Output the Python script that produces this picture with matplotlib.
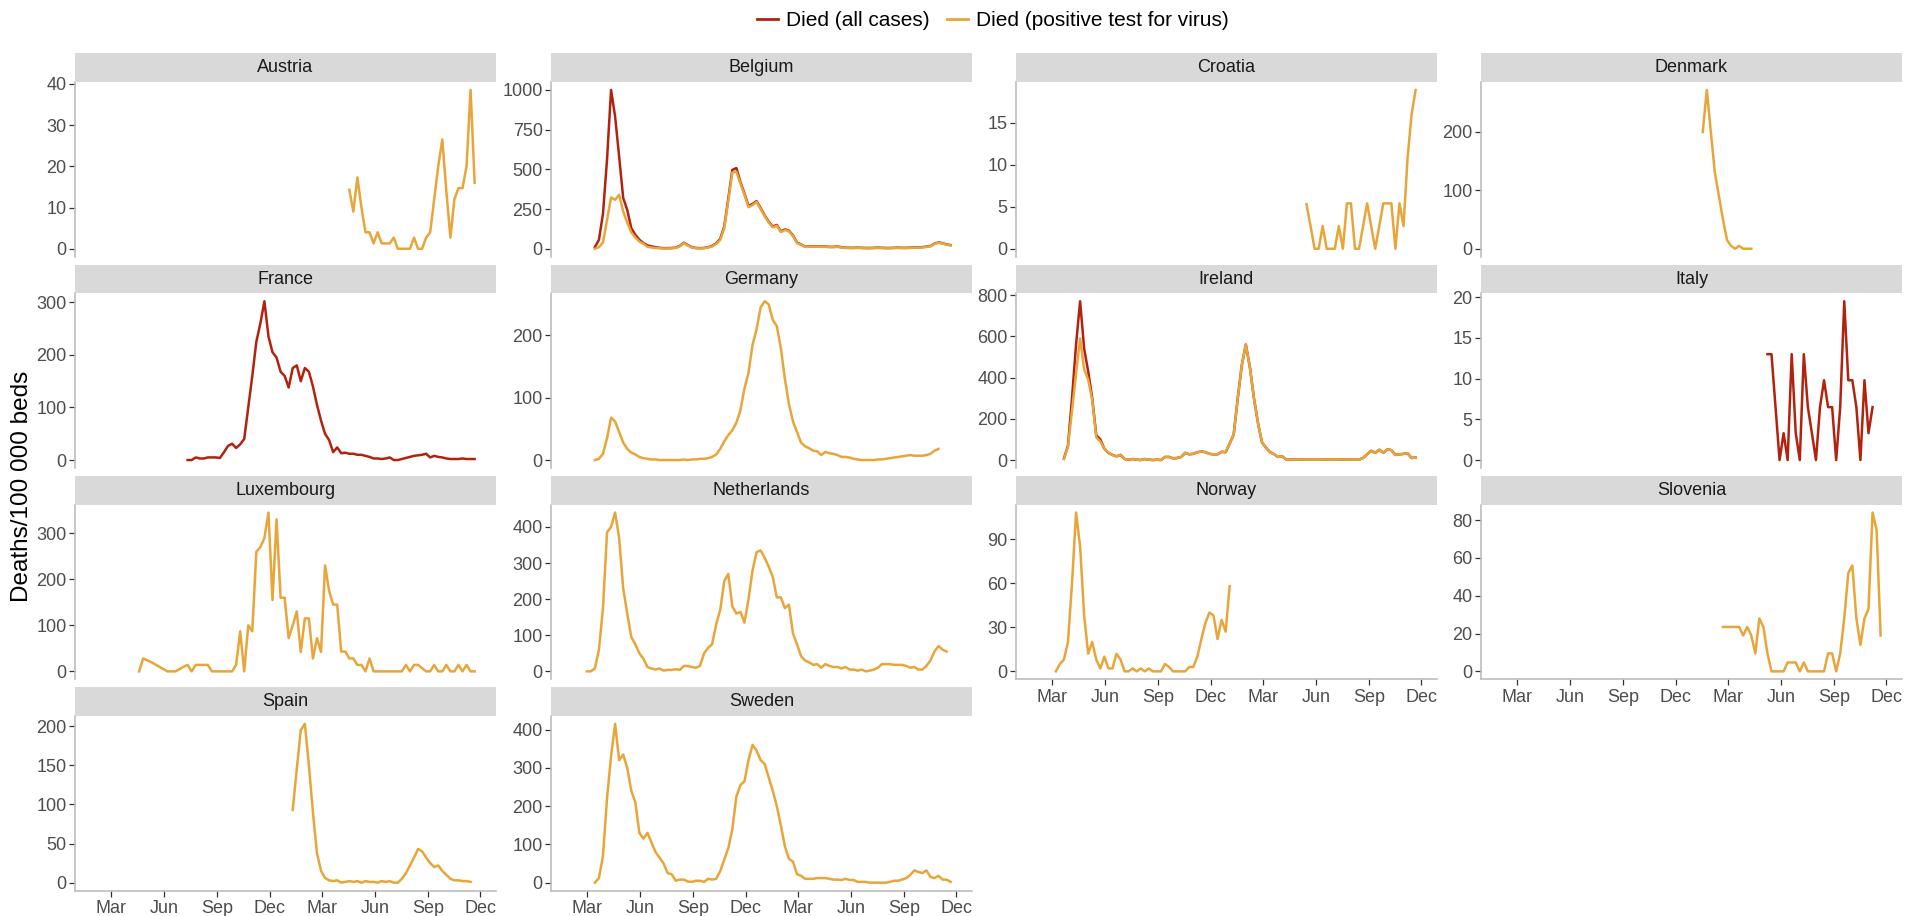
import matplotlib
matplotlib.use("Agg")
import matplotlib.pyplot as plt
import matplotlib.dates as mdates
from matplotlib.patches import Rectangle
from matplotlib.lines import Line2D
import pandas as pd
import numpy as np

plt.rcParams['font.family'] = ['Liberation Sans', 'DejaVu Sans']

# ---------------- data (weekly values, deaths per 100 000 beds) ----------------
countries = ["Austria", "Belgium", "Croatia", "Denmark",
             "France", "Germany", "Ireland", "Italy",
             "Luxembourg", "Netherlands", "Norway", "Slovenia",
             "Spain", "Sweden"]

austria_start = "2021-04-18"
austria_pos = [14.3, 9, 17.3, 10, 4, 4, 1.3, 4, 1.3, 1.3, 1.3, 2.7, 0, 0, 0, 0,
               2.7, 0, 0, 2.7, 4, 12, 20, 26.5, 14, 2.7, 12, 14.7, 14.7, 20, 38.5, 16]

belgium_start = "2020-03-15"
belgium_pos = [0, 10, 40, 180, 323, 308, 340, 235, 165, 103, 71, 46, 31, 12, 8, 5,
               3, 2, 2, 3, 5, 15, 35, 20, 8, 3, 2, 3, 8, 15, 30, 55, 130, 300, 480, 485,
               410, 340, 262, 275, 295, 250, 205, 165, 135, 145, 105, 118, 110, 80, 36, 25,
               12, 12, 14, 13, 12, 12, 10, 10, 12, 8, 5, 4, 4, 5, 4, 3, 3, 4, 5, 4,
               3, 3, 4, 5, 4, 4, 5, 6, 6, 8, 12, 15, 30, 38, 33, 25, 21]
belgium_all = [10, 57, 220, 560, 1000, 833, 580, 320, 245, 130, 88, 57, 36, 21, 15, 10,
               6, 4, 4, 5, 7, 18, 38, 23, 10, 5, 4, 5, 10, 18, 34, 62, 140, 315, 497, 508,
               420, 348, 270, 282, 300, 256, 210, 170, 140, 150, 110, 122, 114, 84, 39, 27,
               14, 14, 16, 15, 14, 14, 12, 12, 14, 10, 7, 6, 6, 7, 6, 5, 5, 6, 7, 6,
               5, 5, 6, 7, 6, 6, 7, 8, 8, 10, 14, 17, 32, 40, 35, 27, 23]

croatia_start = "2021-05-16"
croatia_pos = [5.3, 2.7, 0, 0, 2.7, 0, 0, 0, 2.7, 0, 5.4, 5.4, 0, 0, 2.7, 5.4, 2.7, 0,
               2.7, 5.4, 5.4, 5.4, 0, 5.4, 2.7, 10.8, 16, 18.9]

denmark_start = "2021-01-17"
denmark_pos = [200, 272, 200, 130, 90, 50, 15, 5, 0, 5, 0, 0, 0]

france_start = "2020-07-12"
france_all = [0, 0, 5, 3, 3, 5, 5, 5, 4, 15, 27, 31, 23, 30, 40, 100, 160, 225, 260, 302,
              235, 205, 195, 168, 160, 138, 175, 180, 150, 175, 168, 140, 105, 75, 50, 38,
              15, 24, 13, 14, 12, 12, 10, 10, 8, 6, 3, 3, 2, 3, 5, 0, 0, 2, 4, 6, 8, 9,
              10, 12, 5, 8, 6, 5, 3, 2, 2, 2, 3, 2, 2, 2]

germany_start = "2020-03-15"
germany_pos = [0, 2, 10, 35, 68, 62, 45, 28, 18, 12, 9, 5, 3, 2, 1, 1, 0, 0, 0, 0, 0, 0,
               1, 0, 1, 1, 2, 2, 3, 5, 9, 18, 30, 40, 48, 60, 80, 115, 140, 185, 210, 245,
               255, 250, 225, 215, 180, 130, 90, 62, 45, 28, 22, 19, 15, 14, 8, 13, 11, 10,
               8, 5, 5, 4, 2, 1, 0, 0, 0, 0, 1, 1, 2, 3, 4, 5, 6, 7, 8, 7, 7, 7, 8, 10, 15, 18]

ireland_start = "2020-03-22"
ireland_pos = [5, 65, 240, 420, 590, 440, 390, 290, 110, 90, 55, 35, 25, 18, 25, 5, 2, 5,
               2, 0, 5, 2, 0, 2, 0, 15, 15, 8, 10, 15, 35, 28, 30, 38, 42, 38, 30, 28, 28,
               40, 38, 80, 125, 300, 460, 560, 450, 300, 180, 85, 60, 38, 28, 15, 18, 2, 3,
               2, 2, 3, 2, 2, 2, 2, 2, 3, 2, 2, 2, 3, 2, 2, 2, 2, 10, 28, 45, 35, 50, 35,
               52, 48, 25, 28, 30, 33, 10, 12]
ireland_all = [8, 70, 300, 560, 770, 540, 430, 300, 120, 100, 55, 35, 25, 18, 25, 5, 2, 5,
               2, 0, 5, 2, 0, 2, 0, 15, 15, 8, 10, 15, 35, 28, 30, 38, 42, 38, 30, 28, 28,
               40, 38, 80, 125, 300, 460, 560, 450, 300, 180, 85, 60, 38, 28, 15, 18, 2, 3,
               2, 2, 3, 2, 2, 2, 2, 2, 3, 2, 2, 2, 3, 2, 2, 2, 2, 10, 28, 45, 35, 50, 35,
               52, 48, 25, 28, 30, 33, 10, 12]

italy_start = "2021-05-09"
italy_all = [13, 13, 6.5, 0, 3.3, 0, 13, 3.3, 0, 13, 6.5, 3.3, 0, 6.5, 9.8, 6.5, 6.5, 0,
             6.5, 19.5, 9.8, 9.8, 6.5, 0, 9.8, 3.3, 6.5]

luxembourg_start = "2020-04-19"
luxembourg_pos = [0, 28, 24, 20, 15, 10, 5, 0, 0, 0, 5, 10, 14, 0, 14, 14, 14, 14, 0, 0,
                  0, 0, 0, 0, 14, 87, 0, 100, 87, 260, 270, 290, 345, 155, 330, 160, 160,
                  72, 100, 130, 42, 115, 115, 28, 72, 42, 230, 175, 145, 145, 43, 43, 28,
                  28, 14, 14, 0, 28, 0, 0, 0, 0, 0, 0, 0, 0, 14, 0, 14, 14, 7, 0, 0, 14,
                  0, 0, 14, 0, 0, 14, 0, 14, 0, 0]

netherlands_start = "2020-03-01"
netherlands_pos = [0, 0, 8, 60, 175, 385, 400, 440, 370, 230, 160, 95, 75, 50, 35, 12, 8,
                   5, 8, 2, 4, 4, 6, 4, 15, 15, 12, 10, 15, 50, 65, 75, 130, 170, 250, 270,
                   180, 160, 165, 135, 200, 280, 330, 335, 315, 290, 262, 205, 205, 175,
                   185, 105, 75, 42, 30, 25, 18, 20, 10, 20, 15, 12, 12, 8, 12, 5, 5, 2,
                   5, 0, 2, 5, 10, 20, 20, 20, 18, 18, 18, 15, 10, 12, 5, 5, 15, 30, 55,
                   70, 60, 55]

norway_start = "2020-03-08"
norway_pos = [0, 5, 8, 20, 60, 108, 85, 38, 12, 20, 8, 2, 10, 2, 2, 12, 8, 0, 0, 2, 0, 2,
              0, 2, 0, 0, 0, 5, 3, 0, 0, 0, 0, 3, 3, 10, 22, 33, 40, 38, 22, 35, 27, 58]

slovenia_start = "2021-02-21"
slovenia_pos = [23.5, 23.5, 23.5, 23.5, 23.5, 19, 23.5, 19, 9.5, 28, 23.5, 9.5, 0, 0, 0, 0,
                4.7, 4.7, 4.7, 0, 4.7, 0, 0, 0, 0, 0, 9.5, 9.5, 0, 9.5, 28, 52, 56, 28, 14,
                28, 33, 84, 75, 19]

spain_start = "2021-01-10"
spain_pos = [93, 145, 195, 203, 150, 90, 38, 15, 6, 3, 2, 3, 0, 1, 2, 1, 2, 0, 2, 1, 1, 0,
             2, 1, 2, 0, 0, 5, 12, 22, 32, 43, 40, 32, 25, 20, 22, 15, 10, 5, 3, 3, 2, 2, 1]

sweden_start = "2020-03-15"
sweden_pos = [0, 12, 70, 220, 330, 415, 320, 335, 300, 240, 210, 130, 115, 130, 105, 80, 65,
              50, 25, 22, 5, 8, 8, 3, 2, 5, 5, 2, 10, 8, 10, 30, 60, 90, 140, 225, 255, 265,
              320, 360, 345, 320, 310, 275, 240, 200, 150, 95, 62, 55, 22, 18, 10, 10, 10,
              12, 12, 12, 10, 8, 8, 7, 10, 7, 7, 2, 2, 2, 0, 0, 0, 0, 0, 2, 5, 5, 8, 12,
              20, 32, 28, 25, 32, 15, 12, 18, 8, 8, 2]

yticks = {
    "Austria": [0, 10, 20, 30, 40], "Belgium": [0, 250, 500, 750, 1000],
    "Croatia": [0, 5, 10, 15], "Denmark": [0, 100, 200],
    "France": [0, 100, 200, 300], "Germany": [0, 100, 200],
    "Ireland": [0, 200, 400, 600, 800], "Italy": [0, 5, 10, 15, 20],
    "Luxembourg": [0, 100, 200, 300], "Netherlands": [0, 100, 200, 300, 400],
    "Norway": [0, 30, 60, 90], "Slovenia": [0, 20, 40, 60, 80],
    "Spain": [0, 50, 100, 150, 200], "Sweden": [0, 100, 200, 300, 400],
}

series_all = {"Belgium": (belgium_start, belgium_all), "France": (france_start, france_all),
              "Ireland": (ireland_start, ireland_all), "Italy": (italy_start, italy_all)}
series_pos = {"Austria": (austria_start, austria_pos), "Belgium": (belgium_start, belgium_pos),
              "Croatia": (croatia_start, croatia_pos), "Denmark": (denmark_start, denmark_pos),
              "Germany": (germany_start, germany_pos), "Ireland": (ireland_start, ireland_pos),
              "Luxembourg": (luxembourg_start, luxembourg_pos),
              "Netherlands": (netherlands_start, netherlands_pos),
              "Norway": (norway_start, norway_pos), "Slovenia": (slovenia_start, slovenia_pos),
              "Spain": (spain_start, spain_pos), "Sweden": (sweden_start, sweden_pos)}

label_all = "Died (all cases)"
label_pos = "Died (positive test for virus)"

# ---------------- style ----------------
col_all = "#B2220F"
col_pos = "#E8A53A"
W, H = 1906, 916
col_left = [75, 551, 1016, 1481]
panel_w = 421
row_top = 82
row_pitch = 211.3
panel_h = 174.7
strip_h = 28.5
xaxis_panels = {"Spain", "Sweden", "Norway", "Slovenia"}
xlim = (pd.Timestamp("2019-12-30"), pd.Timestamp("2021-12-28"))

fig = plt.figure(figsize=(W / 100, H / 100), dpi=100)

for idx, name in enumerate(countries):
    r, c = divmod(idx, 4)
    top = row_top + r * row_pitch
    ax = fig.add_axes([col_left[c] / W, 1 - (top + panel_h) / H, panel_w / W, panel_h / H])
    vals_all = []
    if name in series_all:
        s, v = series_all[name]
        d = pd.date_range(s, periods=len(v), freq="7D")
        ax.plot(d, v, color=col_all, lw=1.8, solid_joinstyle="round", zorder=2)
        vals_all += list(v)
    if name in series_pos:
        s, v = series_pos[name]
        d = pd.date_range(s, periods=len(v), freq="7D")
        ax.plot(d, v, color=col_pos, lw=1.8, solid_joinstyle="round", zorder=3)
        vals_all += list(v)
    lo, hi = min(vals_all), max(vals_all)
    rng = hi - lo
    ax.set_ylim(lo - 0.05 * rng, hi + 0.05 * rng)
    ax.set_xlim(*xlim)
    ax.set_yticks(yticks[name])
    ax.tick_params(axis="y", length=4, width=0.9, color="#333333", labelcolor="#4D4D4D",
                   labelsize=13, pad=2)
    ax.xaxis.set_major_locator(mdates.MonthLocator(bymonth=[3, 6, 9, 12]))
    ax.xaxis.set_major_formatter(mdates.DateFormatter("%b"))
    for sp in ["top", "right"]:
        ax.spines[sp].set_visible(False)
    ax.spines["left"].set_color("#BDBDBD")
    ax.spines["left"].set_linewidth(1.2)
    if name in xaxis_panels:
        ax.spines["bottom"].set_color("#BDBDBD")
        ax.spines["bottom"].set_linewidth(1.2)
        ax.tick_params(axis="x", length=4, width=0.9, color="#333333", labelcolor="#4D4D4D",
                       labelsize=13, pad=3)
    else:
        ax.spines["bottom"].set_visible(False)
        ax.tick_params(axis="x", length=0, labelbottom=False)
    # facet strip
    ax.add_patch(Rectangle((0, 1), 1, strip_h / panel_h, transform=ax.transAxes,
                           facecolor="#D9D9D9", edgecolor="none", clip_on=False, zorder=5))
    ax.text(0.5, 1 + strip_h / panel_h / 2, name, transform=ax.transAxes, ha="center",
            va="center", fontsize=13, color="#1A1A1A", zorder=6)

fig.text(22 / W, 1 - 486 / H, "Deaths/100 000 beds", rotation=90, ha="center",
         va="center", fontsize=17.5, color="black")

handles = [Line2D([], [], color=col_all, lw=2), Line2D([], [], color=col_pos, lw=2)]
fig.legend(handles, [label_all, label_pos], loc="center", bbox_to_anchor=(993 / W, 1 - 21 / H),
           ncol=2, frameon=False, fontsize=15, handlelength=1.0, handletextpad=0.4,
           columnspacing=0.8)

fig.savefig("out.png", dpi=100)
